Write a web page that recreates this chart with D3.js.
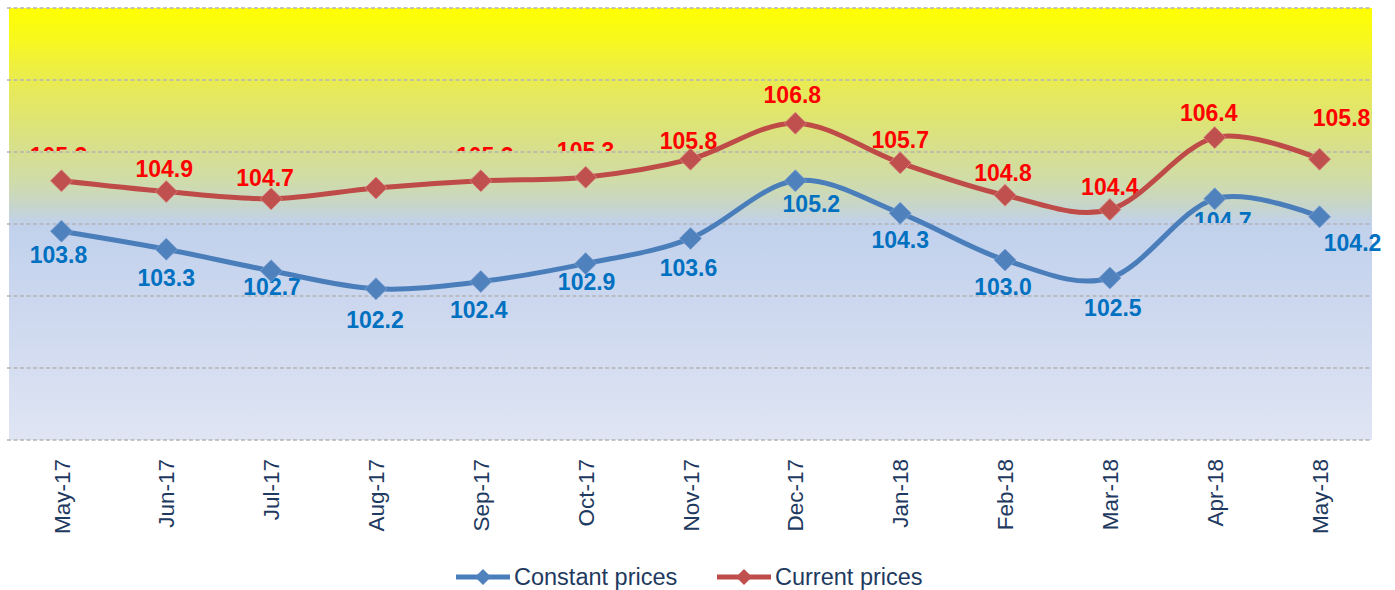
<!DOCTYPE html>
<html>
<head>
<meta charset="utf-8">
<script src="https://cdn.jsdelivr.net/npm/d3@7"></script>
<style>
  html, body { margin: 0; padding: 0; background: #ffffff; }
  svg { display: block; font-family: Arial, "Liberation Sans", sans-serif; }
</style>
</head>
<body>
<svg id="chart" width="1395" height="590"></svg>
<script>
const categories = ["May-17","Jun-17","Jul-17","Aug-17","Sep-17","Oct-17","Nov-17","Dec-17","Jan-18","Feb-18","Mar-18","Apr-18","May-18"];
const constantPrices = [103.8, 103.3, 102.7, 102.2, 102.4, 102.9, 103.6, 105.2, 104.3, 103.0, 102.5, 104.7, 104.2];
const currentPrices  = [105.2, 104.9, 104.7, 105.0, 105.2, 105.3, 105.8, 106.8, 105.7, 104.8, 104.4, 106.4, 105.8];
const yTicks = [98, 100, 102, 104, 106, 108, 110];
const seriesNames = ["Constant prices", "Current prices"];
// labels partly hidden in the original: [series index, point index, value below which the label is hidden]
const hiddenLabelParts = [[1, 0, 106], [1, 3, 106], [1, 4, 106], [1, 5, 106], [0, 11, 104]];
// label centre offsets from their marker (px), as placed in the original
const constantLabelShift = [[-3, 24], [0, 29], [1, 16], [-1, 31], [-2, 28], [1, 18], [-2, 29], [16, 23], [0, 27], [-2, 27], [3, 30], [8, 22], [33, 26]];
const currentLabelShift  = [[-3, -25], [-2, -23], [-6, -21], [0, -24], [4, -25], [0, -26], [-2, -18], [-3, -28], [0, -23], [-2, -22], [0, -23], [-6, -25], [22, -41]];

const W = 1395, H = 590;
const plot = { left: 9, right: 1372, top: 8, bottom: 440 };

const svg = d3.select("#chart");
const defs = svg.append("defs");

const x = d3.scaleBand().domain(categories).range([plot.left, plot.right]).padding(0);
const cx = d => x(d) + x.bandwidth() / 2;
const y = d3.scaleLinear().domain([98, 110]).range([plot.bottom, plot.top]);

// background gradient
const grad = defs.append("linearGradient").attr("id", "bg")
  .attr("gradientUnits", "userSpaceOnUse")
  .attr("x1", 0).attr("x2", 0).attr("y1", plot.top).attr("y2", plot.bottom);
[[0, "#ffff00"], [0.08, "#f7f722"], [0.17, "#e9eb52"], [0.33, "#d6df8e"], [0.40, "#d0dca8"],
 [0.46, "#c6d5cc"], [0.50, "#c1d1ec"], [0.70, "#cdd8ef"], [1, "#dfe5f3"]].forEach(([o, c]) =>
  grad.append("stop").attr("offset", o).attr("stop-color", c));

svg.append("rect").attr("x", plot.left).attr("y", plot.top)
  .attr("width", plot.right - plot.left).attr("height", plot.bottom - plot.top)
  .attr("fill", "url(#bg)");

// gridlines
svg.append("g").selectAll("line").data(yTicks).join("line")
  .attr("x1", plot.left - 2).attr("x2", plot.right)
  .attr("y1", d => y(d)).attr("y2", d => y(d))
  .attr("stroke", "#b4b4b4").attr("stroke-width", 1.5)
  .attr("stroke-dasharray", "4,2.5");

// x axis labels
const xAxis = d3.axisBottom(x).tickSize(0).tickPadding(0);
const gx = svg.append("g").attr("transform", `translate(0,${plot.bottom})`).call(xAxis);
gx.select(".domain").remove();
gx.selectAll("text")
  .attr("transform", "rotate(-90)")
  .attr("x", -19).attr("y", 0).attr("dy", "0.36em")
  .attr("text-anchor", "end")
  .attr("font-size", "22.5px")
  .attr("font-family", "Arial, 'Liberation Sans', sans-serif")
  .attr("fill", "#1f3a60");

const series = [
  { name: seriesNames[0], values: constantPrices, shift: constantLabelShift, line: "#4a7ebb", marker: "#4f81bd", mstroke: "#7a9fd0", label: "#0070c0" },
  { name: seriesNames[1], values: currentPrices,  shift: currentLabelShift,  line: "#be4b48", marker: "#c0504d", mstroke: "#d98583", label: "#ff0000" }
];

const diamond = (s) => `M0,${-s}L${s},0L0,${s}L${-s},0Z`;

// data labels (drawn first, lines on top)
const labelsG = svg.append("g");
series.forEach((s, si) => {
  s.values.forEach((v, i) => {
    const hid = hiddenLabelParts.find(h => h[0] === si && h[1] === i);
    let clip = null;
    if (hid) {
      const id = `clip-${si}-${i}`;
      defs.append("clipPath").attr("id", id).attr("clipPathUnits", "userSpaceOnUse")
        .append("rect")
        .attr("x", 0).attr("y", 0).attr("width", W).attr("height", y(hid[2]) - 1);
      clip = `url(#${id})`;
    }
    labelsG.append("text")
      .attr("x", cx(categories[i]) + s.shift[i][0])
      .attr("y", y(v) + s.shift[i][1])
      .attr("dy", "0.36em")
      .attr("text-anchor", "middle")
      .attr("font-size", "23px")
      .attr("font-weight", "bold")
      .attr("fill", s.label)
      .attr("clip-path", clip)
      .text(v.toFixed(1));
  });
});

// lines
const lineGen = d3.line().x((d, i) => cx(categories[i])).y(d => y(d)).curve(d3.curveCardinal.tension(0));
series.forEach(s => {
  svg.append("path").datum(s.values)
    .attr("d", lineGen)
    .attr("fill", "none")
    .attr("stroke", s.line)
    .attr("stroke-width", 5)
    .attr("stroke-linejoin", "round");
  svg.append("g").selectAll("path").data(s.values).join("path")
    .attr("transform", (d, i) => `translate(${cx(categories[i])},${y(d)})`)
    .attr("d", diamond(11))
    .attr("fill", s.marker)
    .attr("stroke", s.mstroke)
    .attr("stroke-width", 0.8);
});

// legend
const legendItems = [{ s: series[0], x0: 456 }, { s: series[1], x0: 717 }];
const ly = 577;
legendItems.forEach(({ s, x0 }) => {
  const g = svg.append("g");
  g.append("line").attr("x1", x0).attr("x2", x0 + 54).attr("y1", ly).attr("y2", ly)
    .attr("stroke", s.line).attr("stroke-width", 5);
  g.append("path").attr("transform", `translate(${x0 + 27},${ly})`).attr("d", diamond(8))
    .attr("fill", s.marker);
  g.append("text").attr("x", x0 + 58).attr("y", ly).attr("dy", "0.36em")
    .attr("font-size", "23.5px").attr("fill", "#1f3a60").text(s.name);
});
</script>
</body>
</html>
